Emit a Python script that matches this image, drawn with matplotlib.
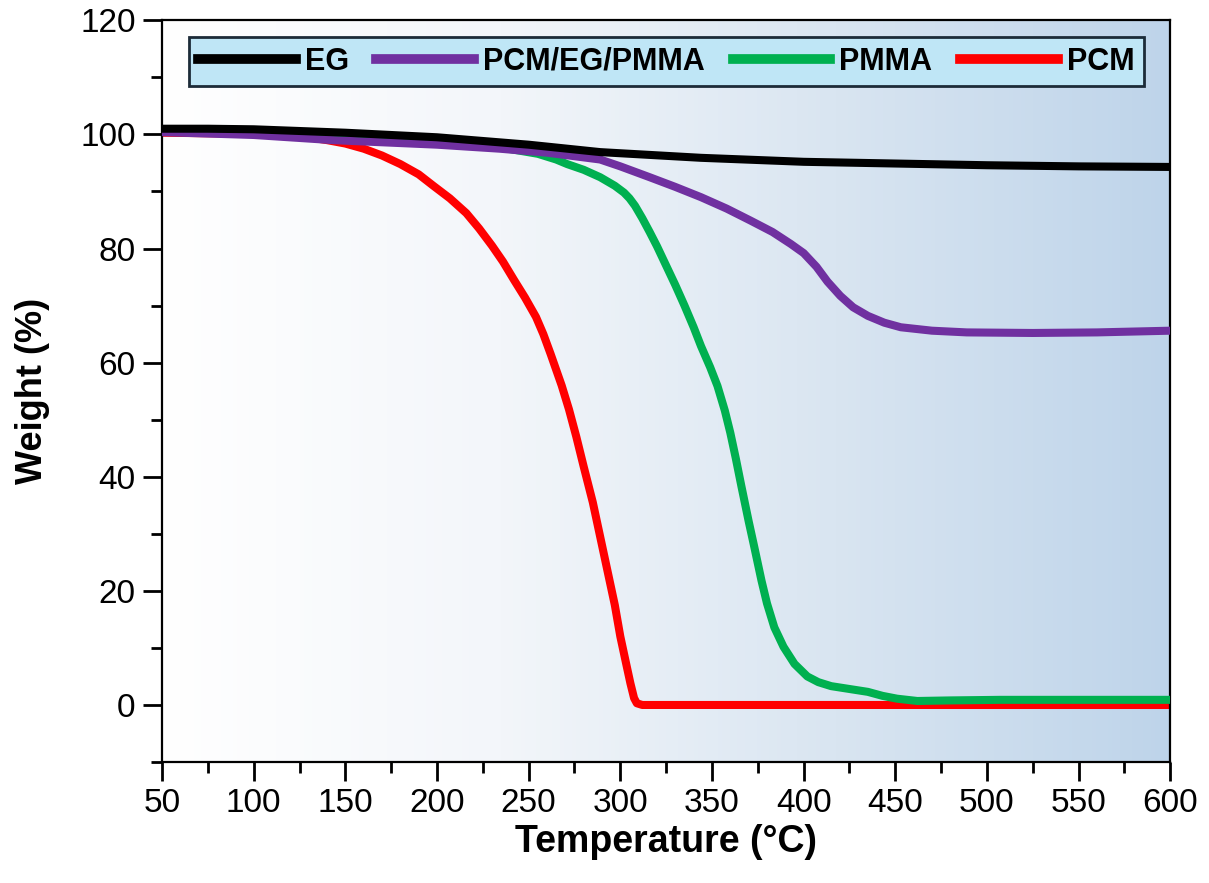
import numpy as np
import matplotlib
matplotlib.use("Agg")
import matplotlib.pyplot as plt
from matplotlib.colors import LinearSegmentedColormap
from matplotlib.ticker import MultipleLocator

plt.rcParams['font.family'] = ['Liberation Sans', 'DejaVu Sans']

# TGA curves
eg_t = [50, 75, 100, 150, 200, 250, 289, 344, 400, 450, 500, 550, 600]
eg_w = [101.0, 101.0, 100.9, 100.3, 99.5, 98.2, 96.9, 95.9, 95.2, 94.9, 94.6, 94.4, 94.3]

comp_t = [50, 100, 143, 200, 234, 260, 289, 300, 316, 330, 344, 358, 371, 383, 393,
          400, 407, 413, 420, 427, 435, 444, 453, 470, 489, 525, 560, 600]
comp_w = [100.4, 99.9, 99.0, 98.2, 97.5, 96.8, 95.6, 94.4, 92.5, 90.8, 89.0, 87.0,
          84.9, 82.9, 80.8, 79.2, 76.8, 74.2, 71.7, 69.7, 68.2, 67.0, 66.2, 65.6,
          65.3, 65.2, 65.3, 65.6]

pmma_t = [50, 100, 150, 200, 235, 255, 265, 271, 280, 289, 297, 302, 305, 308, 312,
          316, 320, 325, 330, 335, 340, 344, 349, 353, 357, 360, 363, 366, 370, 373,
          377, 380, 384, 389, 395, 402, 408, 415, 425, 435, 443, 451, 462, 480, 507,
          550, 600]
pmma_w = [100.8, 100.5, 99.9, 99.0, 97.7, 96.6, 95.6, 94.8, 93.8, 92.5, 91.0, 89.8,
          88.8, 87.5, 85.3, 82.9, 80.4, 77.0, 73.6, 70.0, 66.2, 62.9, 59.2, 55.9,
          51.6, 47.7, 43.2, 38.4, 32.2, 27.8, 21.8, 17.8, 13.6, 10.2, 7.2, 5.0, 4.0,
          3.3, 2.8, 2.3, 1.6, 1.1, 0.7, 0.8, 0.9, 0.9, 0.9]

pcm_t = [50, 100, 130, 140, 150, 160, 170, 180, 190, 198, 207, 216, 223, 230, 236,
         242, 248, 254, 258, 262, 268, 272, 276, 280, 285, 289, 293, 297, 300, 303,
         305.5, 307.5, 309, 312, 600]
pcm_w = [100.3, 100.1, 99.5, 99.0, 98.4, 97.5, 96.3, 94.8, 93.0, 91.0, 88.8, 86.2,
         83.5, 80.5, 77.7, 74.5, 71.4, 68.0, 65.0, 61.5, 56.0, 51.8, 47.0, 41.8, 35.5,
         29.5, 23.5, 17.5, 12.0, 7.5, 3.8, 1.2, 0.3, 0.0, 0.0]

labels = ["EG", "PCM/EG/PMMA", "PMMA", "PCM"]
colors = ["#000000", "#7030A0", "#00B050", "#FF0000"]

fig = plt.figure(figsize=(12.09, 8.83), dpi=100)
ax = fig.add_axes([0.134, 0.137, 0.834, 0.840])

# white-to-blue gradient behind the curves
bg = LinearSegmentedColormap.from_list("bg", ["#ffffff", "#f3f6fa", "#d9e5f1", "#bed4ea"])
ax.imshow(np.linspace(0, 1, 256).reshape(1, -1), cmap=bg, aspect="auto",
          extent=[0, 1, 0, 1], transform=ax.transAxes, zorder=0)

lw = 5.8
l_pcm, = ax.plot(pcm_t, pcm_w, color=colors[3], lw=lw, solid_joinstyle="round", zorder=2)
l_pmma, = ax.plot(pmma_t, pmma_w, color=colors[2], lw=lw, solid_joinstyle="round", zorder=3)
l_comp, = ax.plot(comp_t, comp_w, color=colors[1], lw=lw, solid_joinstyle="round", zorder=4)
l_eg, = ax.plot(eg_t, eg_w, color=colors[0], lw=lw, solid_joinstyle="round", zorder=5)

ax.set_xlim(50, 600)
ax.set_ylim(-10, 120)
ax.xaxis.set_major_locator(MultipleLocator(50))
ax.xaxis.set_minor_locator(MultipleLocator(25))
ax.yaxis.set_major_locator(MultipleLocator(20))
ax.yaxis.set_minor_locator(MultipleLocator(10))

ax.tick_params(which="both", direction="out", width=2, top=False, right=False)
ax.tick_params(which="major", length=14, labelsize=24, pad=5)
ax.tick_params(which="minor", length=8)
for s in ax.spines.values():
    s.set_linewidth(1.6)

ax.set_xlabel("Temperature (\u00b0C)", fontsize=27, fontweight="bold", labelpad=3)
ax.set_ylabel("Weight (%)", fontsize=26, fontweight="bold", labelpad=22)

leg = ax.legend([l_eg, l_comp, l_pmma, l_pcm], labels, ncol=4, loc="upper center",
                bbox_to_anchor=(0.5, 0.977), borderaxespad=0, frameon=True,
                fancybox=False, handlelength=3.2, handletextpad=0.3,
                columnspacing=0.9, borderpad=0.3,
                prop={"size": 22, "weight": "bold"})
leg.get_frame().set_facecolor("#bfe6f6")
leg.get_frame().set_edgecolor("#1c2b38")
leg.get_frame().set_linewidth(2)
leg.get_frame().set_alpha(1)
for h in leg.get_lines():
    h.set_linewidth(7)

fig.savefig("out.png", dpi=100)
